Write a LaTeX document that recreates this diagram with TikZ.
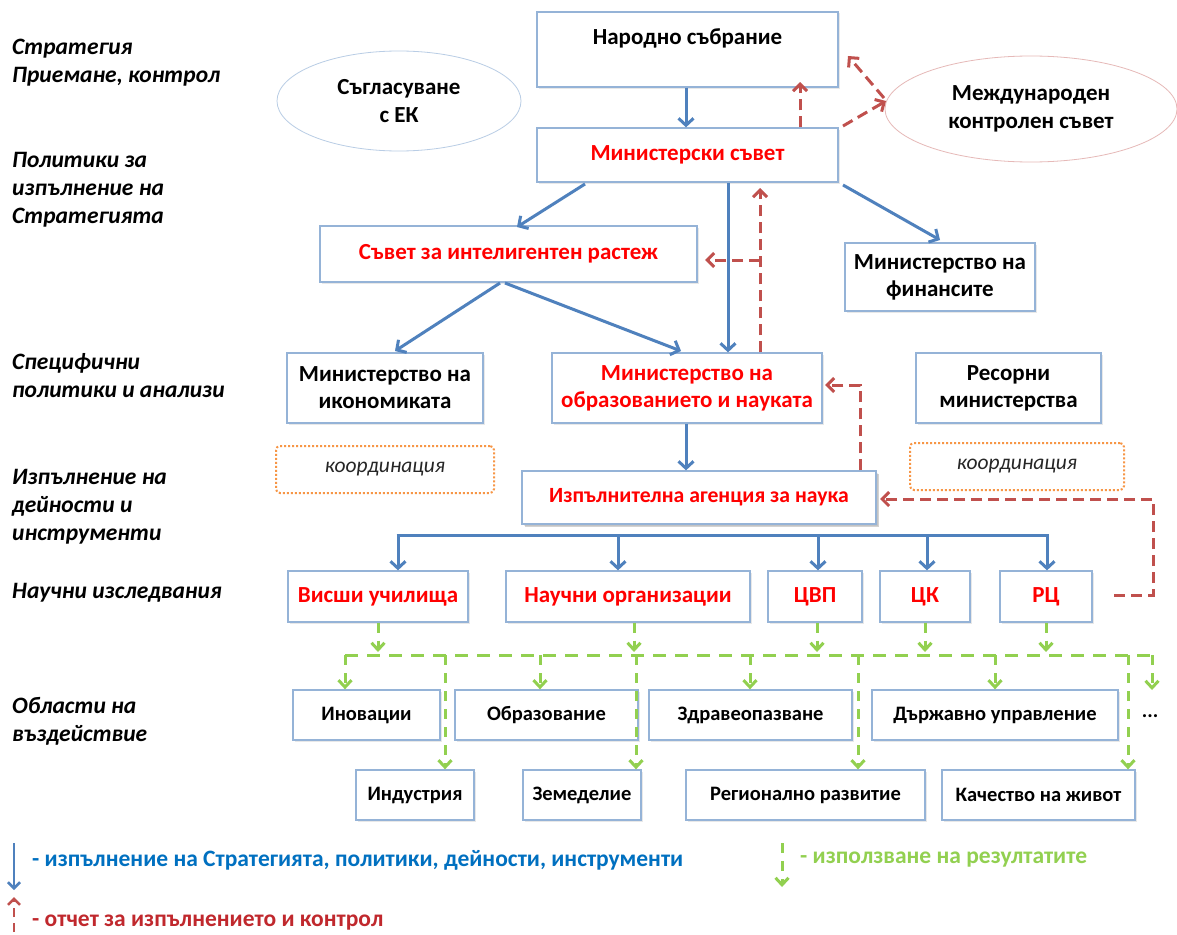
\documentclass[tikz,border=0pt]{standalone}
\usepackage{fontspec}
\setmainfont{Carlito}
\usetikzlibrary{arrows.meta,shadows,shapes.geometric,calc}
\definecolor{bord}{HTML}{95B3D7}
\definecolor{ellblue}{HTML}{B9CDE5}
\definecolor{arrblue}{HTML}{4F81BD}
\definecolor{redd}{HTML}{C0504D}
\definecolor{legred}{HTML}{C0282D}
\definecolor{grn}{HTML}{92D050}
\definecolor{orng}{HTML}{F79646}
\definecolor{txtred}{HTML}{FF0000}
\definecolor{legblue}{HTML}{0070C0}
\definecolor{ellred}{HTML}{E6B9B8}
\tikzset{
  box/.style={draw=bord, line width=1.3pt, fill=white, inner sep=0pt, align=center,
    font=\bfseries\fontsize{23}{27}\selectfont,
    drop shadow={opacity=0.18, shadow xshift=1.5pt, shadow yshift=-1.5pt}},
  redbox/.style={box, text=txtred},
  areabox/.style={box, font=\bfseries\fontsize{20.5}{26}\selectfont},
  ell/.style={ellipse, draw=ellblue, line width=0.8pt, fill=white, inner sep=0pt, align=center,
    font=\bfseries\fontsize{23}{28}\selectfont},
  coord/.style={draw=orng, line width=2pt, dotted, rounded corners=4pt, inner sep=0pt,
    text=black!85, font=\itshape\fontsize{21.5}{24}\selectfont},
  lab/.style={anchor=base west, align=left, inner sep=0pt,
    font=\bfseries\itshape\fontsize{23.5}{28}\selectfont},
  barrow/.style={draw=arrblue, line width=3pt, -{Straight Barb[length=7pt,width=15pt]}},
  rarrow/.style={draw=redd, line width=3pt, dash pattern=on 11pt off 6pt,
    -{Straight Barb[length=7pt,width=14pt]}},
  garrow/.style={draw=grn, line width=3pt, dash pattern=on 10pt off 8pt,
    -{Straight Barb[length=7pt,width=13pt]}},
  gline/.style={draw=grn, line width=3pt, dash pattern=on 13pt off 9pt},
  legtext/.style={anchor=west, inner sep=0pt, font=\bfseries\fontsize{23.5}{26}\selectfont}
}
\begin{document}
\begin{tikzpicture}[x=1pt,y=-1pt]
\useasboundingbox (0,0) rectangle (1177,934);
\fill[white] (0,0) rectangle (1177,934);

% left labels (anchor at baseline of last line)
\node[lab] (l1) at (12,82) {Стратегия\\Приемане, контрол};
\node[lab] (l2) at (12,223) {Политики за\\изпълнение на\\Стратегията};
\node[lab] (l3) at (12,397) {Специфични\\политики и анализи};
\node[lab] (l4) at (12,540) {Изпълнение на\\дейности и\\инструменти};
\node[lab] (l5) at (12,598) {Научни изследвания};
\node[lab] (l6) at (12,741) {Области на\\въздействие};

% top
\node[box, minimum width=301pt, minimum height=75pt, text depth=26pt] (ns) at (687.5,49.5) {Народно събрание};
\node[redbox, minimum width=301pt, minimum height=54pt] (ms) at (687.5,155) {Министерски съвет};
\node[ell, minimum width=244pt, minimum height=100pt] (ek) at (399,101) {Съгласуване\\с ЕК};
\node[ell, draw=ellred, minimum width=292pt, minimum height=106pt] (mks) at (1031,109) {Международен\\контролен съвет};

\node[redbox, minimum width=377pt, minimum height=56pt] (sir) at (508.5,254) {Съвет за интелигентен растеж};
\node[box, minimum width=190pt, minimum height=68pt] (mf) at (940,277) {Министерство на\\финансите};

\node[box, minimum width=196pt, minimum height=70pt] (mi) at (385,388) {Министерство на\\икономиката};
\node[redbox, minimum width=270pt, minimum height=70pt] (mon) at (687,388) {Министерство на\\образованието и науката};
\node[box, minimum width=185pt, minimum height=70pt] (rm) at (1008.5,388) {Ресорни\\министерства};

\node[coord, minimum width=218pt, minimum height=47pt] (k1) at (385,469.5) {координация};
\node[coord, minimum width=214pt, minimum height=47pt] (k2) at (1017,466.5) {координация};

\node[redbox, minimum width=354pt, minimum height=53pt, font=\bfseries\fontsize{21.7}{26}\selectfont,
  drop shadow={opacity=0.35, shadow xshift=3pt, shadow yshift=-3pt}] (ian) at (699,497.5) {Изпълнителна агенция за наука};

\node[redbox, minimum width=180pt, minimum height=51pt] (vu) at (378,596.5) {Висши училища};
\node[redbox, minimum width=244pt, minimum height=51pt] (no) at (628,596.5) {Научни организации};
\node[redbox, minimum width=94pt, minimum height=51pt] (cvp) at (815,596.5) {ЦВП};
\node[redbox, minimum width=90pt, minimum height=51pt] (ck) at (925,596.5) {ЦК};
\node[redbox, minimum width=92pt, minimum height=51pt] (rc) at (1046,596.5) {РЦ};

\node[areabox, minimum width=147pt, minimum height=50pt] (inn) at (366.5,715) {Иновации};
\node[areabox, minimum width=183pt, minimum height=50pt] (obr) at (546.5,715) {Образование};
\node[areabox, minimum width=203pt, minimum height=50pt] (zdr) at (750.5,715) {Здравеопазване};
\node[areabox, minimum width=246pt, minimum height=50pt] (dsu) at (995,715) {Държавно управление};
\node[inner sep=0pt, font=\bfseries\fontsize{20.5}{22}\selectfont] (dots) at (1150,716) {...};

\node[areabox, minimum width=118pt, minimum height=50pt] (ind) at (415,795) {Индустрия};
\node[areabox, minimum width=118pt, minimum height=50pt] (zem) at (582,795) {Земеделие};
\node[areabox, minimum width=239pt, minimum height=50pt] (reg) at (805.5,795) {Регионално развитие};
\node[areabox, minimum width=193pt, minimum height=50pt] (kach) at (1038.5,795) {Качество на живот};

% blue arrows
\draw[barrow] (ns.south -| 686,0) -- (ms.north -| 686,0);
\draw[barrow] (585,184) -- (517,227);
\draw[barrow] (ms.south -| 728,0) -- (mon.north -| 728,0);
\draw[barrow] (843,185) -- (940,240);
\draw[barrow] (500,283) -- (395,351);
\draw[barrow] (505,283) -- (681,351);
\draw[barrow] (mon.south -| 686,0) -- (ian.north -| 686,0);
\coordinate (busL) at (398,535);
\coordinate (busR) at (1047,535);
\draw[arrblue, line width=3pt] ($(busL)+(-1.5,0)$) -- ($(busR)+(1.5,0)$);
\draw[barrow] (busL) -- (vu.north -| busL);
\draw[barrow] (618,535) -- (no.north -| 618,0);
\draw[barrow] (818,535) -- (cvp.north -| 818,0);
\draw[barrow] (927,535) -- (ck.north -| 927,0);
\draw[barrow] (busR) -- (rc.north -| busR);

% red dashed arrows
\draw[rarrow] (ms.north -| 800,0) -- (800,82);
\draw[rarrow] (843,126) -- (886,101);
\draw[rarrow] (884,98) -- (848,56);
\draw[rarrow] (mon.north -| 760,0) -- (760,188);
\draw[rarrow] (760,260) -- (705,260);
\draw[rarrow] (ian.north -| 860,0) -- (860,385) -- (825,385);
\draw[rarrow] (1114,595) -- (1153,595) -- (1153,499) -- (880,499);

% green dashed
\coordinate (gL) at (345,655);
\coordinate (gR) at (1152,655);
\draw[gline] (gL) -- (gR);
\draw[garrow] (vu.south -| 378,0) -- (378,652);
\draw[garrow] (no.south -| 634,0) -- (634,652);
\draw[garrow] (cvp.south -| 817,0) -- (817,652);
\draw[garrow] (ck.south -| 925,0) -- (925,652);
\draw[garrow] (rc.south -| 1046,0) -- (1046,652);
\draw[garrow] (gL) -- (inn.north -| gL);
\draw[garrow] (540,655) -- (obr.north -| 540,0);
\draw[garrow] (750,655) -- (zdr.north -| 750,0);
\draw[garrow] (995,655) -- (dsu.north -| 995,0);
\draw[garrow] (gR) -- (1152,690);
\draw[garrow] (445,655) -- (ind.north -| 445,0);
\draw[garrow] (636,655) -- (zem.north -| 636,0);
\draw[garrow] (858,655) -- (reg.north -| 858,0);
\draw[garrow] (1128,655) -- (kach.north -| 1128,0);

% legend
\coordinate (lb1) at (14,843);
\coordinate (lb2) at (14,890);
\draw[draw=arrblue, line width=2.5pt, -{Straight Barb[length=6pt,width=12pt]}] (lb1) -- (lb2);
\node[legtext, text=legblue] (t1) at (32,860) {- изпълнение на Стратегията, политики, дейности, инструменти};
\coordinate (lg1) at (782,843);
\coordinate (lg2) at (782,887);
\draw[garrow] (lg1) -- (lg2);
\node[legtext, text=grn] (t2) at (800,860) {- използване на резултатите};
\coordinate (lr1) at (14,932);
\coordinate (lr2) at (14,897);
\draw[draw=redd, line width=2.5pt, dash pattern=on 9pt off 6pt, -{Straight Barb[length=6pt,width=12pt]}] (lr1) -- (lr2);
\node[legtext, text=legred] (t3) at (32,923) {- отчет за изпълнението и контрол};
\end{tikzpicture}
\end{document}
